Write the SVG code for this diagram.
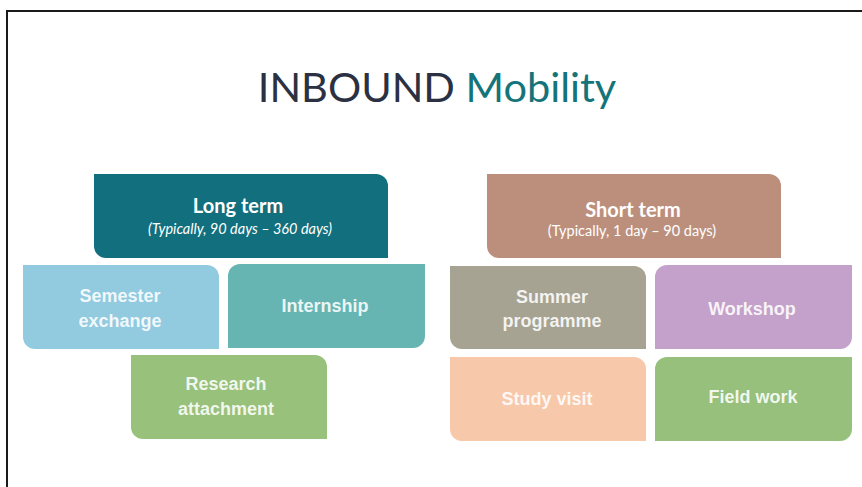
<svg xmlns="http://www.w3.org/2000/svg" width="862" height="487" viewBox="0 0 862 487">
<style>
.lbl{font-family:"Liberation Sans",Arial,sans-serif;font-weight:bold;font-size:18px;fill:#ffffff;fill-opacity:0.88;text-anchor:middle}
.hd{font-family:Lato,"Open Sans",sans-serif;font-weight:bold;font-size:20px;fill:#ffffff;text-anchor:middle}
.sub{font-family:Lato,"Open Sans",sans-serif;font-size:14.5px;fill:#ffffff;text-anchor:middle}
</style>
<rect x="0" y="0" width="862" height="487" fill="#ffffff"/>
<path d="M7 487 V11 H862" fill="none" stroke="#1a1a1a" stroke-width="2"/>
<text x="437" y="102" font-family="Lato,'Open Sans',sans-serif" font-size="41.5" text-anchor="middle"><tspan fill="#2b3142">INBOUND </tspan><tspan fill="#147479">Mobility</tspan></text>
<g id="connectors"></g>
<g id="long-term">
<path d="M94 174 H376 A12 12 0 0 1 388 186 V258 H106 A12 12 0 0 1 94 246 Z" fill="#126f7e"/>
<text class="hd" x="238" y="213">Long term</text>
<text class="sub" x="240" y="234" font-style="italic" font-size="15">(Typically, 90 days – 360 days)</text>
</g>
<g id="semester-exchange">
<path d="M23 265 H207 A12 12 0 0 1 219 277 V349 H35 A12 12 0 0 1 23 337 Z" fill="#92cadf"/>
<text class="lbl" x="120" y="302">Semester</text>
<text class="lbl" x="120" y="327">exchange</text>
</g>
<g id="internship">
<path d="M240 264 H425 V336 A12 12 0 0 1 413 348 H228 V276 A12 12 0 0 1 240 264 Z" fill="#67b5b2"/>
<text class="lbl" x="325" y="312">Internship</text>
</g>
<g id="research-attachment">
<path d="M131 355 H315 A12 12 0 0 1 327 367 V439 H143 A12 12 0 0 1 131 427 Z" fill="#98c17b"/>
<text class="lbl" x="226" y="390">Research</text>
<text class="lbl" x="226" y="415">attachment</text>
</g>
<g id="short-term">
<path d="M487 174 H769 A12 12 0 0 1 781 186 V258 H499 A12 12 0 0 1 487 246 Z" fill="#bc8f7d"/>
<text class="hd" x="633" y="217">Short term</text>
<text class="sub" x="632" y="236">(Typically, 1 day – 90 days)</text>
</g>
<g id="summer-programme">
<path d="M450 266 H634 A12 12 0 0 1 646 278 V349 H462 A12 12 0 0 1 450 337 Z" fill="#a6a392"/>
<text class="lbl" x="552" y="303">Summer</text>
<text class="lbl" x="552" y="327">programme</text>
</g>
<g id="workshop">
<path d="M667 265 H852 V337 A12 12 0 0 1 840 349 H655 V277 A12 12 0 0 1 667 265 Z" fill="#c4a1ca"/>
<text class="lbl" x="752" y="315">Workshop</text>
</g>
<g id="study-visit">
<path d="M450 357 H634 A12 12 0 0 1 646 369 V441 H462 A12 12 0 0 1 450 429 Z" fill="#f7c8aa"/>
<text class="lbl" x="547" y="405">Study visit</text>
</g>
<g id="field-work">
<path d="M667 357 H852 V429 A12 12 0 0 1 840 441 H655 V369 A12 12 0 0 1 667 357 Z" fill="#96c07b"/>
<text class="lbl" x="753" y="403">Field work</text>
</g>
</svg>
